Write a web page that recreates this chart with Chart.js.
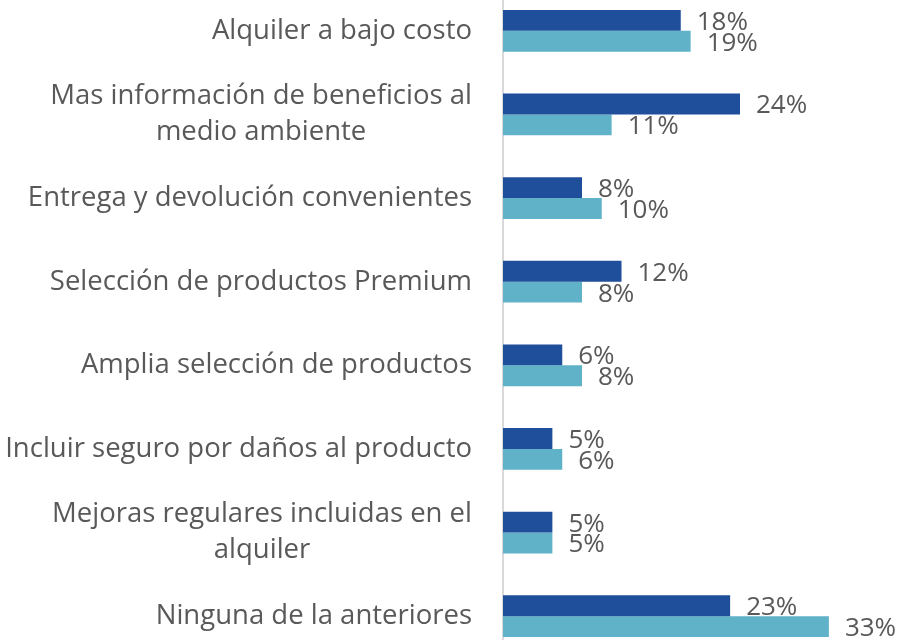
<!DOCTYPE html>
<html lang="es">
  <head>
    <meta charset="UTF-8" />
    <title>chart</title>
    <style>
      html, body { margin: 0; padding: 0; background: #fff; overflow: hidden; }
      #wrap { position: absolute; left: 0; top: -11px; width: 901px; height: 669px; }
    </style>
  </head>
  <body>
    <div id="wrap"><canvas id="chart"></canvas></div>

    <script src="https://cdn.jsdelivr.net/npm/chart.js"></script>
    <script>
      const categories = [
        ["Alquiler a bajo costo"],
        ["Mas información de beneficios al", "medio ambiente"],
        ["Entrega y devolución convenientes"],
        ["Selección de productos Premium"],
        ["Amplia selección de productos"],
        ["Incluir seguro por daños al producto"],
        ["Mejoras regulares incluidas en el", "alquiler"],
        ["Ninguna de la anteriores"],
      ];
      const serieA = [18, 24, 8, 12, 6, 5, 5, 23];
      const serieB = [19, 11, 10, 8, 8, 6, 5, 33];

      const FONT = "'Open Sans', sans-serif";
      const GREY = "#595959";

      // draws "NN%" just right of each bar
      const barLabels = {
        id: "barLabels",
        afterDatasetsDraw(chart) {
          const ctx = chart.ctx;
          ctx.save();
          ctx.font = "26px " + FONT;
          ctx.fillStyle = GREY;
          ctx.textAlign = "left";
          ctx.textBaseline = "middle";
          chart.data.datasets.forEach((ds, i) => {
            chart.getDatasetMeta(i).data.forEach((el, j) => {
              ctx.fillText(ds.data[j] + "%", el.x + 16, el.y + 2);
            });
          });
          ctx.restore();
        },
      };

      // category labels: block right aligned, lines centred inside the block
      const catLabels = {
        id: "catLabels",
        afterDraw(chart) {
          const ctx = chart.ctx;
          const y = chart.scales.y;
          const right = y.right - 31;
          const lh = 36;
          ctx.save();
          ctx.font = "27.5px " + FONT;
          ctx.fillStyle = GREY;
          ctx.textAlign = "center";
          ctx.textBaseline = "middle";
          chart.data.labels.forEach((lines, i) => {
            const w = Math.max(...lines.map((l) => ctx.measureText(l).width));
            const cx = right - w / 2;
            const cy = y.getPixelForTick(i);
            lines.forEach((l, k) => {
              ctx.fillText(l, cx, cy + (k - (lines.length - 1) / 2) * lh);
            });
          });
          ctx.restore();
        },
      };

      new Chart(document.getElementById("chart"), {
        type: "bar",
        data: {
          labels: categories,
          datasets: [
            { label: "A", data: serieA, backgroundColor: "#1F4E9B" },
            { label: "B", data: serieB, backgroundColor: "#5FB2C8" },
          ],
        },
        options: {
          indexAxis: "y",
          responsive: true,
          maintainAspectRatio: false,
          animation: false,
          categoryPercentage: 0.5,
          barPercentage: 1,
          layout: { padding: { top: 0, bottom: 0, left: 0, right: 3 } },
          plugins: { legend: { display: false }, tooltip: { enabled: false } },
          scales: {
            x: { display: false, min: 0, max: 40 },
            y: {
              afterFit(s) {
                s.width = 503;
                s.paddingTop = 0;
                s.paddingBottom = 0;
              },
              grid: { display: true, drawOnChartArea: false, drawTicks: false },
              border: { display: true, color: "#d9d9d9", width: 2 },
              ticks: { display: false },
            },
          },
        },
        plugins: [barLabels, catLabels],
      });
    </script>
  </body>
</html>
